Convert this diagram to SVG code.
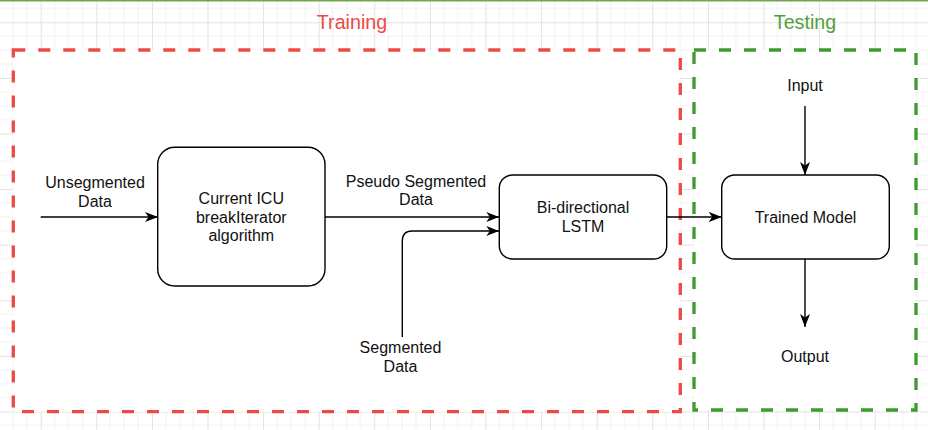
<svg xmlns="http://www.w3.org/2000/svg" width="928" height="430" viewBox="0 0 928 430">
<style>
.t{font-family:"Liberation Sans",Arial,sans-serif;font-size:16px;fill:#111;text-anchor:middle}
.node{fill:#fff;stroke:#000;stroke-width:1.4}
.conn{fill:none;stroke:#000;stroke-width:1.4}
.title{font-family:"Liberation Sans",Arial,sans-serif;font-size:19.7px;text-anchor:middle}
</style>
<defs>
<pattern id="grid" patternUnits="userSpaceOnUse" x="40.7" y="22.3" width="55.6" height="55.6">
<path d="M13.9,0V55.6M27.8,0V55.6M41.7,0V55.6M0,13.9H55.6M0,27.8H55.6M0,41.7H55.6" stroke="#f1f1f1" stroke-width="1" fill="none"/>
<path d="M0.5,0V55.6M0,0.5H55.6" stroke="#e2e2e2" stroke-width="1" fill="none"/>
</pattern>
<marker id="arr" markerUnits="userSpaceOnUse" markerWidth="13" markerHeight="10" refX="13" refY="5" orient="auto">
<path d="M0,0L13,5L0,10L3.5,5Z" fill="#000"/>
</marker>
</defs>
<rect width="928" height="430" fill="#fff"/>
<rect width="928" height="430" fill="url(#grid)"/>
<rect x="0" y="0" width="928" height="1.5" fill="#72a84d"/>
<g id="training-group">
<rect x="13.3" y="50" width="667" height="361.7" fill="#fff" stroke="#ee4a44" stroke-width="3.3" stroke-dasharray="12 13"/>
<text class="title" x="352" y="29" fill="#ea4b45">Training</text>
</g>
<g id="testing-group">
<rect x="694" y="50" width="222" height="360" fill="#fff" stroke="#3f9a2f" stroke-width="3.3" stroke-dasharray="12 13"/>
<text class="title" x="805" y="29" fill="#4fa13c">Testing</text>
</g>
<g id="connectors">
<line class="conn" x1="40.7" y1="217" x2="158" y2="217" marker-end="url(#arr)"/>
<line class="conn" x1="325" y1="217" x2="499.3" y2="217" marker-end="url(#arr)"/>
<path class="conn" d="M402.3,337V241Q402.3,231 412.3,231H499.3" marker-end="url(#arr)"/>
<line class="conn" x1="667" y1="217" x2="721.7" y2="217" marker-end="url(#arr)"/>
<line class="conn" x1="805" y1="106" x2="805" y2="175" marker-end="url(#arr)"/>
<line class="conn" x1="805" y1="259" x2="805" y2="327" marker-end="url(#arr)"/>
<text class="t" x="95" y="187.7">Unsegmented</text>
<text class="t" x="95" y="206.7">Data</text>
<text class="t" x="416" y="186.7">Pseudo Segmented</text>
<text class="t" x="416" y="205">Data</text>
<text class="t" x="400.5" y="353.3">Segmented</text>
<text class="t" x="400.5" y="371.7">Data</text>
</g>
<g id="icu">
<rect class="node" x="157.7" y="147.3" width="167.3" height="138.7" rx="17"/>
<text class="t" x="241.3" y="204">Current ICU</text>
<text class="t" x="241.3" y="222.5">breakIterator</text>
<text class="t" x="241.3" y="241">algorithm</text>
</g>
<g id="lstm">
<rect class="node" x="499.3" y="175" width="167.4" height="84" rx="13"/>
<text class="t" x="583" y="212.7">Bi-directional</text>
<text class="t" x="583" y="231.7">LSTM</text>
</g>
<g id="trained-model">
<rect class="node" x="721.7" y="175" width="167.6" height="84" rx="13"/>
<text class="t" x="805.5" y="223.3">Trained Model</text>
</g>
<g id="input">
<text class="t" x="805" y="90.7">Input</text>
</g>
<g id="output">
<text class="t" x="805" y="361.7">Output</text>
</g>
</svg>
